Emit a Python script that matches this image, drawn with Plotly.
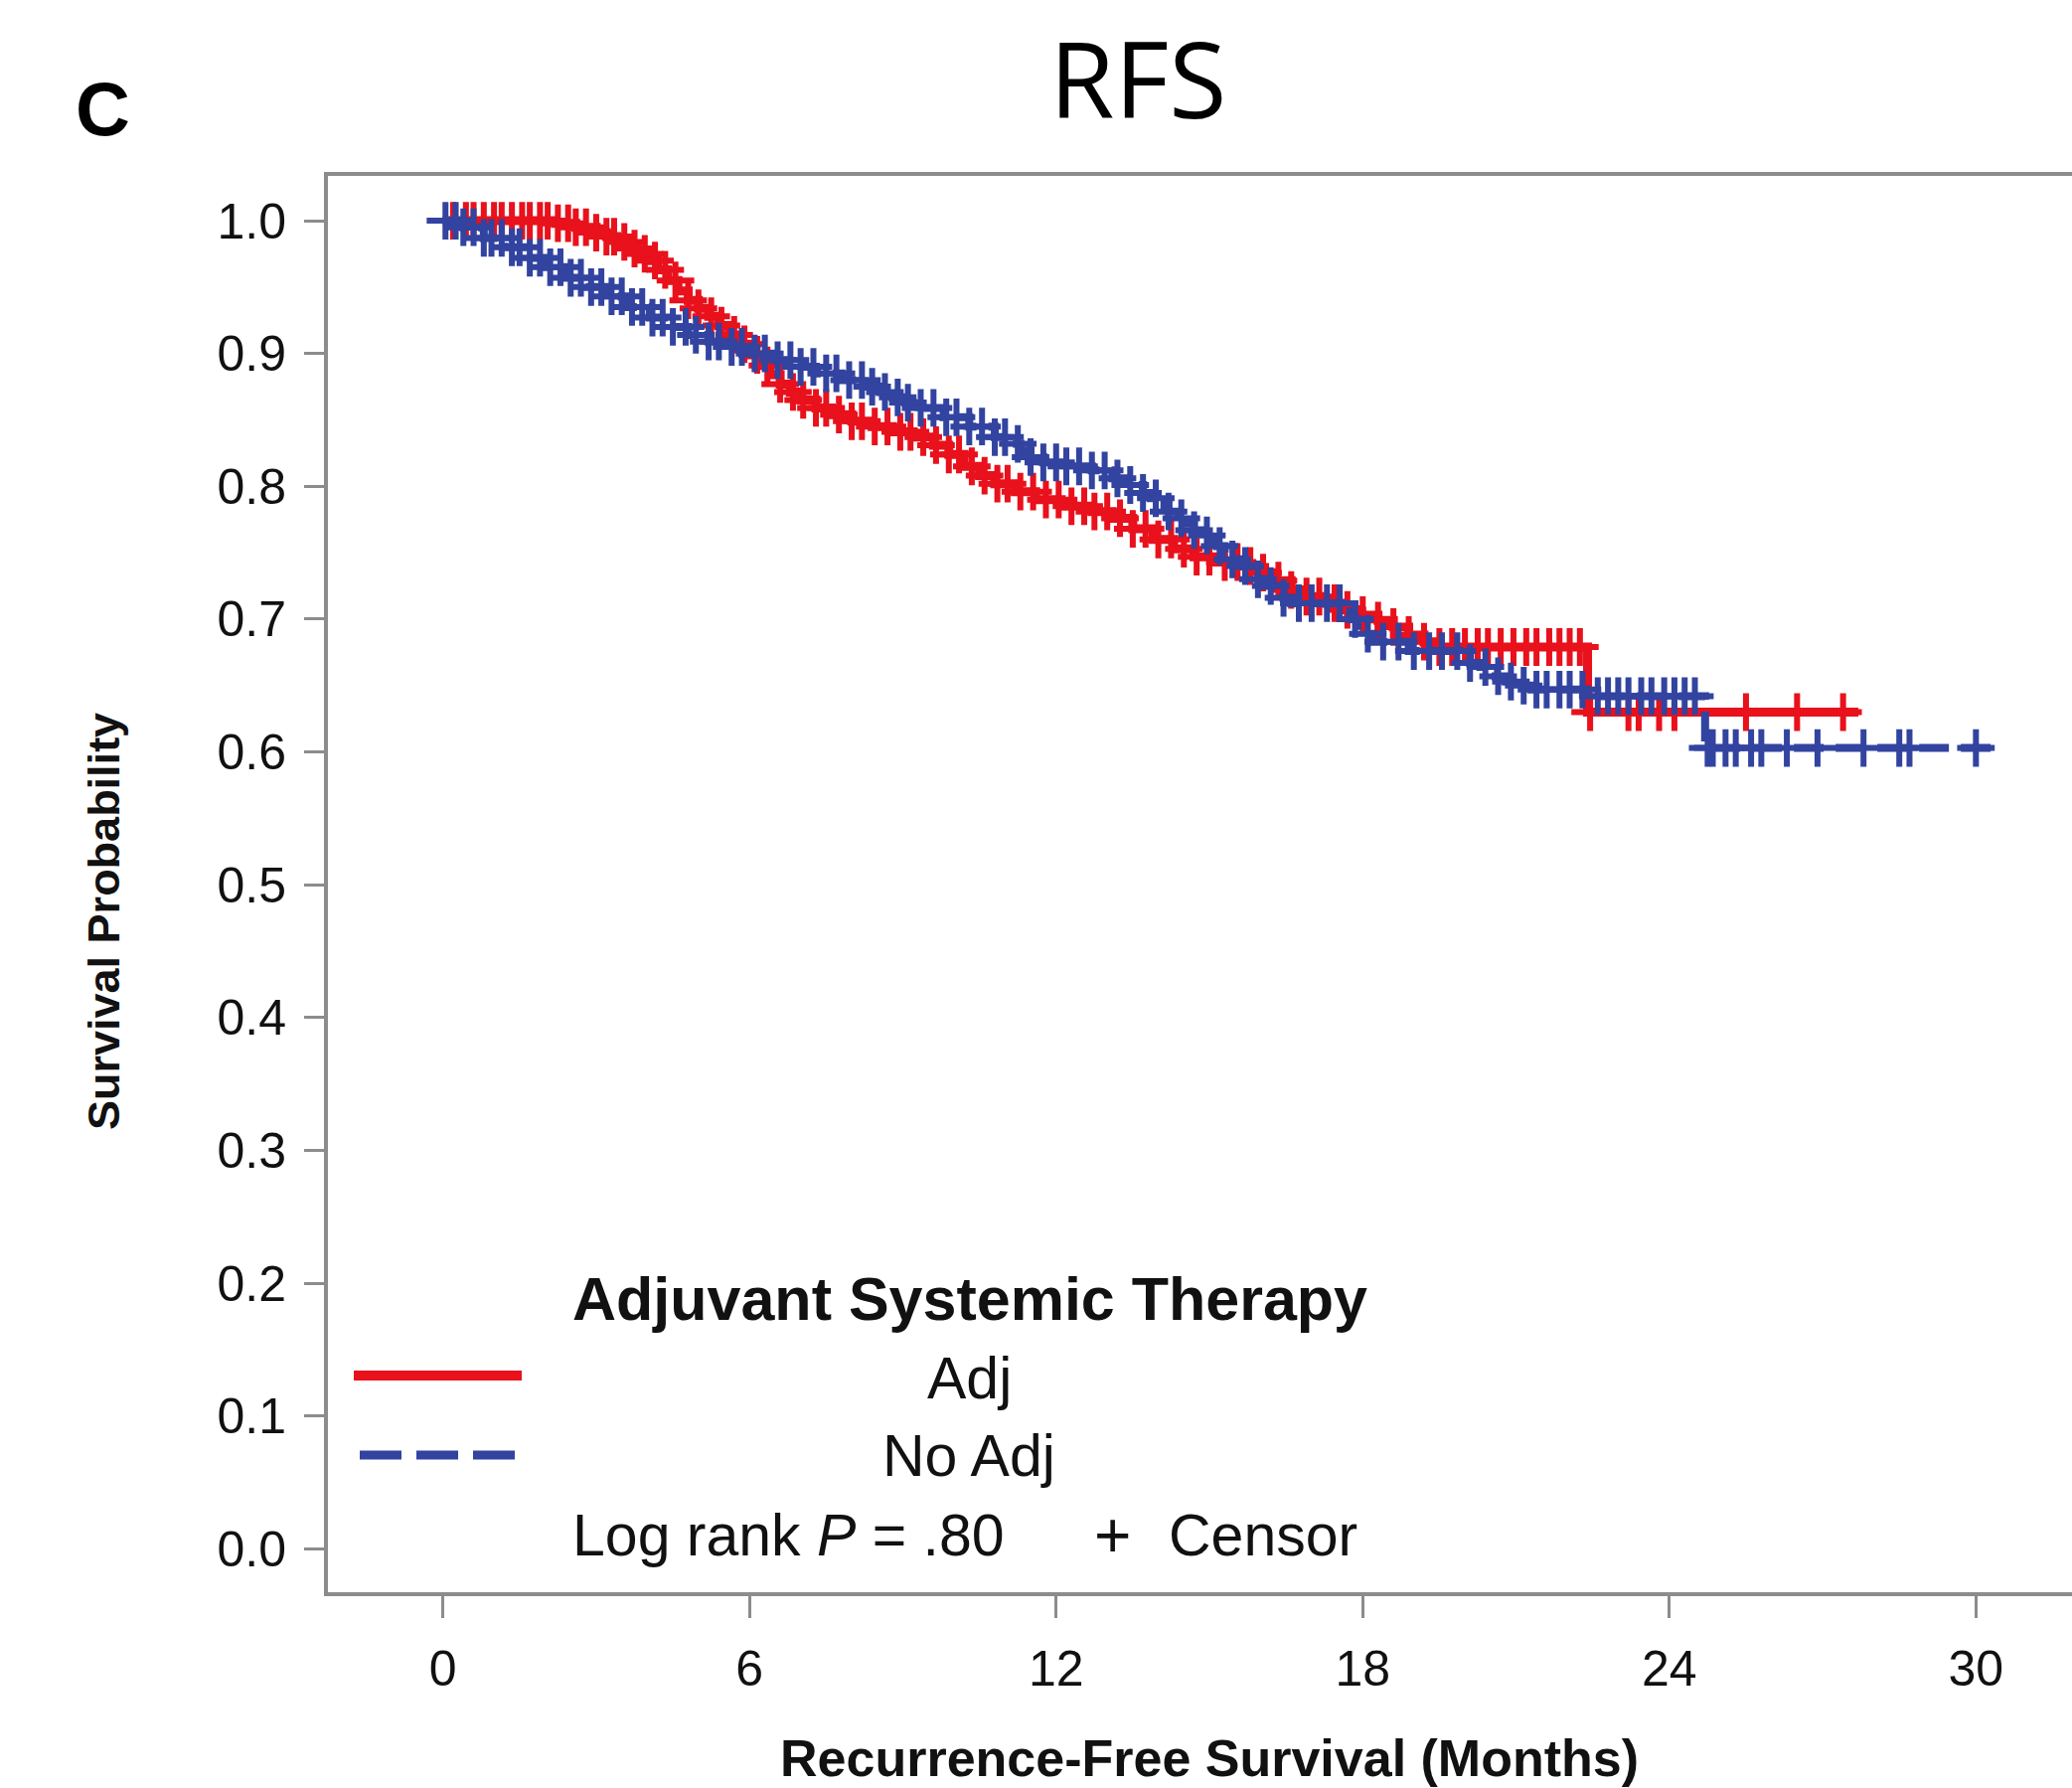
import numpy as np
import plotly.graph_objects as go

# ---------------- data ----------------
x_ticks = [0, 6, 12, 18, 24, 30]
y_ticks = [0.0, 0.1, 0.2, 0.3, 0.4, 0.5, 0.6, 0.7, 0.8, 0.9, 1.0]
y_tick_labels = ["0.0", "0.1", "0.2", "0.3", "0.4", "0.5", "0.6", "0.7", "0.8", "0.9", "1.0"]

group_names = ["Adj", "No Adj"]

adj_t = [0, 2.2, 2.6, 3.0, 3.2, 3.4, 3.6, 3.8, 4.0, 4.2, 4.4, 4.6, 4.8, 5.0, 5.2, 5.4, 5.6,
         5.8, 6.0, 6.2, 6.4, 6.6, 6.8, 7.0, 7.3, 7.6, 8.0, 8.4, 8.8, 9.2, 9.6, 9.9, 10.2,
         10.5, 10.8, 11.2, 11.6, 12.1, 12.7, 13.1, 13.5, 13.9, 14.3, 14.7, 15.1, 15.6, 16.0,
         16.3, 16.6, 16.9, 17.2, 17.6, 17.9, 18.3, 18.6, 18.9, 19.2, 19.5, 22.4, 27.7]
adj_s = [1.0, 0.998, 0.995, 0.991, 0.988, 0.984, 0.979, 0.975, 0.970, 0.963, 0.955, 0.947,
         0.940, 0.934, 0.928, 0.921, 0.914, 0.907, 0.899, 0.891, 0.884, 0.877, 0.871, 0.865,
         0.859, 0.854, 0.849, 0.845, 0.841, 0.837, 0.831, 0.824, 0.815, 0.808, 0.802, 0.796,
         0.790, 0.785, 0.781, 0.776, 0.768, 0.760, 0.753, 0.747, 0.743, 0.740, 0.735, 0.729,
         0.722, 0.717, 0.712, 0.707, 0.703, 0.699, 0.694, 0.688, 0.683, 0.679, 0.630, 0.630]

noadj_t = [0, 0.4, 0.8, 1.2, 1.65, 2.0, 2.4, 2.8, 3.2, 3.6, 4.05, 4.4, 4.8, 5.2, 5.6, 6.0,
           6.5, 6.9, 7.3, 7.8, 8.25, 8.55, 8.8, 9.05, 9.3, 9.8, 10.3, 10.8, 11.05, 11.3, 11.5,
           11.75, 12.2, 12.7, 13.1, 13.4, 13.7, 13.85, 14.0, 14.2, 14.4, 14.55, 14.7, 14.85,
           15.0, 15.15, 15.3, 15.45, 15.6, 15.8, 15.95, 16.1, 16.3, 16.45, 16.6, 17.6, 17.75,
           17.9, 18.05, 18.2, 18.9, 19.9, 20.1, 20.3, 20.45, 20.6, 20.8, 21.0, 21.3, 22.5,
           24.7, 30.3]
noadj_s = [1.0, 0.995, 0.987, 0.980, 0.972, 0.965, 0.957, 0.950, 0.943, 0.935, 0.927, 0.920,
           0.914, 0.909, 0.905, 0.900, 0.895, 0.890, 0.885, 0.880, 0.875, 0.871, 0.867, 0.863,
           0.859, 0.852, 0.845, 0.837, 0.832, 0.827, 0.822, 0.818, 0.815, 0.812, 0.806, 0.801,
           0.795, 0.791, 0.786, 0.781, 0.776, 0.772, 0.767, 0.763, 0.759, 0.755, 0.750, 0.745,
           0.740, 0.735, 0.730, 0.725, 0.720, 0.716, 0.712, 0.706, 0.700, 0.695, 0.689, 0.683,
           0.676, 0.671, 0.667, 0.664, 0.660, 0.657, 0.653, 0.650, 0.647, 0.642, 0.603, 0.603]

adj_censor = [0.2, 0.45, 0.6, 0.8, 1.0, 1.15, 1.35, 1.55, 1.7, 1.9, 2.05, 2.25, 2.45, 2.6, 2.8,
              3.0, 3.2, 3.35, 3.55, 3.75, 3.95, 4.15, 4.35, 4.55, 4.8, 5.0, 5.25, 5.45, 5.7,
              5.9, 6.15, 6.35, 6.6, 6.85, 7.05, 7.3, 7.5, 7.75, 8.0, 8.2, 8.45, 8.7, 8.95,
              9.15, 9.4, 9.65, 9.9, 10.1, 10.35, 10.6, 10.85, 11.05, 11.3, 11.55, 11.8, 12.05,
              12.3, 12.55, 12.75, 13.0, 13.25, 13.5, 13.75, 14.0, 14.25, 14.5, 14.75, 15.0,
              15.3, 15.55, 15.8, 16.05, 16.35, 16.6, 16.9, 17.15, 17.45, 17.7, 18.0, 18.3,
              18.6, 18.9, 19.2, 19.5, 19.75, 20.0, 20.25, 20.45, 20.7, 20.95, 21.2, 21.4,
              21.65, 21.85, 22.05, 22.25, 22.45, 23.2, 23.4, 23.8, 24.1, 25.5, 26.5, 27.4]
noadj_censor = [0.05, 0.25, 0.4, 0.6, 0.8, 0.95, 1.15, 1.35, 1.5, 1.7, 1.9, 2.1, 2.3, 2.5, 2.7,
                2.9, 3.1, 3.3, 3.5, 3.7, 3.9, 4.1, 4.3, 4.5, 4.75, 4.95, 5.2, 5.4, 5.65, 5.85,
                6.1, 6.3, 6.55, 6.8, 7.0, 7.25, 7.5, 7.7, 7.95, 8.2, 8.4, 8.65, 8.9, 9.1, 9.35,
                9.6, 9.85, 10.05, 10.3, 10.55, 10.8, 11.0, 11.25, 11.5, 11.75, 12.0, 12.2,
                12.45, 12.7, 12.95, 13.2, 13.45, 13.7, 13.95, 14.2, 14.45, 14.7, 14.95, 15.2,
                15.45, 15.7, 15.95, 16.2, 16.45, 16.75, 17.0, 17.3, 17.55, 17.85, 18.1, 18.4,
                18.7, 19.0, 19.3, 19.55, 19.85, 20.1, 20.4, 20.65, 20.9, 21.15, 21.4, 21.6,
                21.85, 22.05, 22.3, 22.6, 22.8, 23.0, 23.2, 23.45, 23.65, 23.9, 24.1, 24.3,
                24.5, 24.75, 24.85, 25.1, 25.3, 25.6, 25.8, 26.3, 26.9, 27.8, 28.5, 28.7, 30.0]

# ---------------- style ----------------
RED = "#E8111C"
BLUE = "#3243A0"
AXIS = "#8C8C8C"
FONT = "Liberation Sans, Arial, sans-serif"


def step_value(times, surv, t):
    idx = np.searchsorted(np.asarray(times), t, side="right") - 1
    return [surv[i] for i in idx]


fig = go.Figure()

fig.add_trace(go.Scatter(x=adj_t, y=adj_s, mode="lines", line_shape="hv",
                         line=dict(color=RED, width=9), name=group_names[0], showlegend=False))
fig.add_trace(go.Scatter(x=adj_censor, y=step_value(adj_t, adj_s, adj_censor), mode="markers",
                         marker=dict(symbol="cross-thin", size=27,
                                     line=dict(color=RED, width=6)),
                         showlegend=False))
fig.add_trace(go.Scatter(x=noadj_t, y=noadj_s, mode="lines", line_shape="hv",
                         line=dict(color=BLUE, width=8, dash="30px,12px"),
                         name=group_names[1], showlegend=False))
fig.add_trace(go.Scatter(x=noadj_censor, y=step_value(noadj_t, noadj_s, noadj_censor),
                         mode="markers",
                         marker=dict(symbol="cross-thin", size=27,
                                     line=dict(color=BLUE, width=6)),
                         showlegend=False))

# plot area in pixels: x 330..2085, y 177..1602
W, H = 2085, 1799
L, R, T, B = 330, 2085, 177, 1602


def px(xp):
    return (xp - L) / (R - L)


def py(yp):
    return (B - yp) / (B - T)


fig.update_layout(
    width=W, height=H,
    margin=dict(l=L, r=W - R, t=T, b=H - B, pad=0),
    paper_bgcolor="white", plot_bgcolor="white",
    font=dict(family=FONT, color="black"),
    showlegend=False,
)

fig.update_xaxes(range=[-2.25, 31.88], tickvals=x_ticks, ticktext=[str(v) for v in x_ticks],
                 showgrid=False, zeroline=False, showline=True, linecolor=AXIS, linewidth=4,
                 mirror=True, ticks="outside", ticklen=22, tickwidth=3, tickcolor=AXIS,
                 tickfont=dict(size=50, family=FONT, color="#111"), ticklabelstandoff=8)
fig.update_yaxes(range=[-0.0326, 1.0337], tickvals=y_ticks, ticktext=y_tick_labels,
                 showgrid=False, zeroline=False, showline=True, linecolor=AXIS, linewidth=4,
                 mirror=False, ticks="outside", ticklen=20, tickwidth=3, tickcolor=AXIS,
                 tickfont=dict(size=50, family=FONT, color="#111"), ticklabelstandoff=8)

ann = []
ann.append(dict(text="RFS", x=px(1145), y=py(78), xref="paper", yref="paper",
                xanchor="center", yanchor="middle", showarrow=False,
                font=dict(family="Open Sans, sans-serif", size=106, color="black")))
ann.append(dict(text="<b>C</b>", x=px(103), y=py(110), xref="paper", yref="paper",
                xanchor="center", yanchor="middle", showarrow=False,
                font=dict(family=FONT, size=76, color="black")))
ann.append(dict(text="<b>Survival Probability</b>", x=px(104), y=py(927), xref="paper",
                yref="paper", xanchor="center", yanchor="middle", textangle=-90,
                showarrow=False, font=dict(family=FONT, size=45, color="#111")))
ann.append(dict(text="<b>Recurrence-Free Survival (Months)</b>", x=px(1217), y=py(1769),
                xref="paper", yref="paper", xanchor="center", yanchor="middle",
                showarrow=False, font=dict(family=FONT, size=52, color="#111")))
ann.append(dict(text="<b>Adjuvant Systemic Therapy</b>", x=px(574), y=py(1307),
                xref="paper", yref="paper", xanchor="left", yanchor="middle",
                showarrow=False, font=dict(family=FONT, size=61, color="#111")))
ann.append(dict(text=group_names[0], x=px(975), y=py(1387), xref="paper", yref="paper",
                xanchor="center", yanchor="middle", showarrow=False,
                font=dict(family=FONT, size=59, color="#111")))
ann.append(dict(text=group_names[1], x=px(975), y=py(1465), xref="paper", yref="paper",
                xanchor="center", yanchor="middle", showarrow=False,
                font=dict(family=FONT, size=59, color="#111")))
ann.append(dict(text="Log rank <i>P</i> = .80", x=px(574), y=py(1545), xref="paper",
                yref="paper", xanchor="left", yanchor="middle", showarrow=False,
                font=dict(family=FONT, size=59, color="#111")))
ann.append(dict(text="+", x=px(1119), y=py(1545), xref="paper", yref="paper",
                xanchor="center", yanchor="middle", showarrow=False,
                font=dict(family=FONT, size=64, color="#111")))
ann.append(dict(text="Censor", x=px(1174), y=py(1545), xref="paper", yref="paper",
                xanchor="left", yanchor="middle", showarrow=False,
                font=dict(family=FONT, size=59, color="#111")))
fig.update_layout(annotations=ann)

fig.add_shape(type="line", xref="paper", yref="paper", x0=px(356), x1=px(525),
              y0=py(1384), y1=py(1384), line=dict(color=RED, width=10))
fig.add_shape(type="line", xref="paper", yref="paper", x0=px(362), x1=px(519),
              y0=py(1464), y1=py(1464), line=dict(color=BLUE, width=9, dash="42px,15px"))

fig.write_html("out.html")
